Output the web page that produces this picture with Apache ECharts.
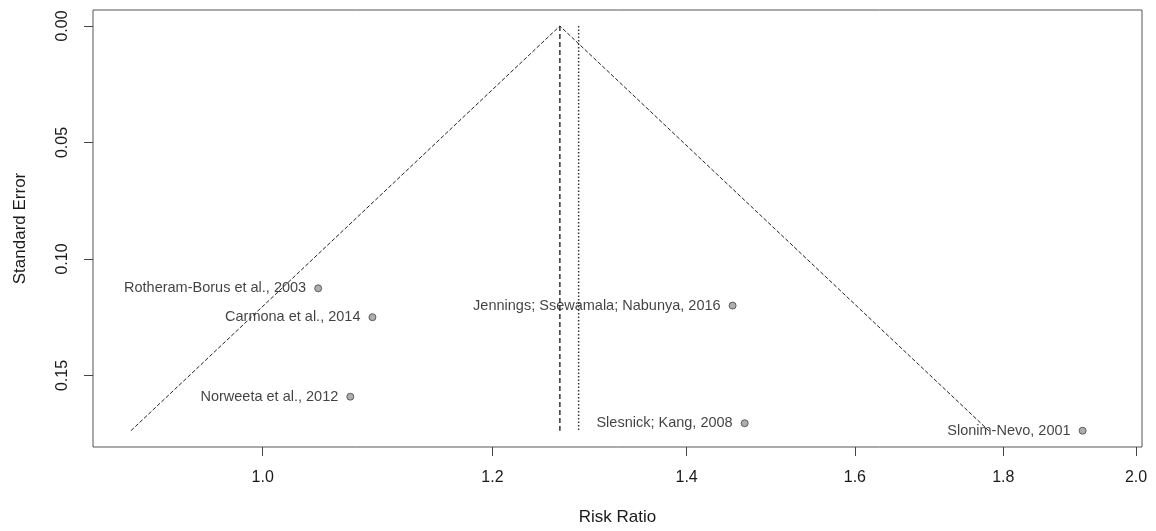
<!DOCTYPE html>
<html>
<head>
<meta charset="utf-8">
<script src="https://cdn.jsdelivr.net/npm/echarts@6/dist/echarts.min.js"></script>
<style>
  html, body { margin: 0; padding: 0; background: #fff; }
  #chart { width: 1156px; height: 531px; }
</style>
</head>
<body>
<div id="chart"></div>
<script>
// studies (risk ratio + standard error)
const studies = [
  'Rotheram-Borus et al., 2003',
  'Carmona et al., 2014',
  'Norweeta et al., 2012',
  'Jennings; Ssewamala; Nabunya, 2016',
  'Slesnick; Kang, 2008',
  'Slonim-Nevo, 2001'
];
const riskRatio = [1.045, 1.091, 1.072, 1.452, 1.466, 1.917];
const stdError = [0.1126, 0.1250, 0.1591, 0.1200, 0.1705, 0.1737];

// pooled estimates (dashed / dotted reference lines)
const pooledRR = 1.266;
const altRR = 1.285;

const xTicks = [1.0, 1.2, 1.4, 1.6, 1.8, 2.0];
const yTicks = [0, 0.05, 0.10, 0.15];

const seMax = Math.max.apply(null, stdError);
const est = Math.log(pooledRR);

const points = riskRatio.map((rr, i) => ({
  name: studies[i],
  value: [Math.log(rr), stdError[i]]
}));

const chart = echarts.init(document.getElementById('chart'));

const font = 'Arial, "Liberation Sans", sans-serif';

chart.setOption({
  animation: false,
  backgroundColor: '#fff',
  grid: {
    left: 93, right: 14, top: 10, bottom: 84,
    show: true,
    borderColor: '#555',
    borderWidth: 1
  },
  xAxis: {
    type: 'value',
    position: 'bottom',
    min: -0.1347,
    max: 0.6979,
    name: 'Risk Ratio',
    nameLocation: 'middle',
    nameGap: 62,
    nameTextStyle: { fontSize: 17, color: '#1a1a1a', fontFamily: font },
    splitLine: { show: false },
    axisLine: { show: false, onZero: false },
    axisTick: {
      show: true, length: 9, inside: false,
      customValues: xTicks.map(v => Math.log(v)),
      lineStyle: { color: '#444' }
    },
    axisLabel: {
      margin: 23,
      fontSize: 16, color: '#1a1a1a', fontFamily: font,
      customValues: xTicks.map(v => Math.log(v)),
      formatter: v => Math.exp(v).toFixed(1)
    }
  },
  yAxis: {
    type: 'value',
    position: 'left',
    inverse: true,
    min: -0.00687,
    max: 0.1807,
    name: 'Standard Error',
    nameLocation: 'middle',
    nameGap: 64,
    nameTextStyle: { fontSize: 17, color: '#1a1a1a', fontFamily: font },
    splitLine: { show: false },
    axisLine: { show: false, onZero: false },
    axisTick: {
      show: true, length: 9,
      customValues: yTicks,
      lineStyle: { color: '#444' }
    },
    axisLabel: {
      rotate: 90,
      margin: 22,
      fontSize: 16, color: '#1a1a1a', fontFamily: font,
      customValues: yTicks,
      formatter: v => v.toFixed(2)
    }
  },
  series: [
    {
      // funnel (pseudo 95% limits)
      type: 'line',
      silent: true,
      symbol: 'none',
      data: [
        [est - 1.96 * seMax, seMax],
        [est, 0],
        [est + 1.96 * seMax, seMax]
      ],
      lineStyle: { color: '#222', width: 1, type: [4, 2] },
      z: 2
    },
    {
      type: 'line',
      silent: true,
      symbol: 'none',
      data: [[est, 0], [est, seMax]],
      lineStyle: { color: '#333', width: 1.5, type: [5, 3] },
      z: 2
    },
    {
      type: 'line',
      silent: true,
      symbol: 'none',
      data: [[Math.log(altRR), 0], [Math.log(altRR), seMax]],
      lineStyle: { color: '#333', width: 1.5, type: [1.5, 2] },
      z: 2
    },
    {
      type: 'scatter',
      data: points,
      symbol: 'circle',
      symbolSize: 7,
      itemStyle: { color: '#9a9a9a', borderColor: '#444', borderWidth: 1 },
      label: {
        show: true,
        position: 'left',
        distance: 8,
        formatter: p => p.name,
        fontSize: 14.5,
        color: '#111',
        fontFamily: font
      },
      z: 3
    }
  ]
});
</script>
</body>
</html>
